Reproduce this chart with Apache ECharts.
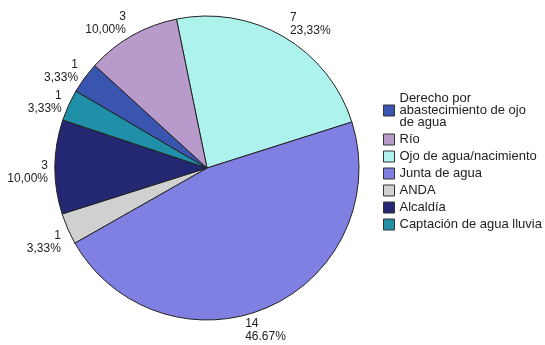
<!DOCTYPE html>
<html>
<head>
<meta charset="utf-8">
<script src="https://cdn.jsdelivr.net/npm/echarts@6/dist/echarts.min.js"></script>
<style>
  html, body { margin: 0; padding: 0; background: #fff; }
  #chart { width: 545px; height: 345px; }
</style>
</head>
<body>
<div id="chart"></div>
<script>
// slices in clockwise order, starting at the top
var categories = ['Ojo de agua/nacimiento', 'Junta de agua', 'ANDA', 'Alcaldía',
  'Captación de agua lluvia', 'Derecho por abastecimiento de ojo de agua', 'Río'];
var counts = [7, 14, 1, 3, 1, 1, 3];
var percentLabels = ['23,33%', '46.67%', '3,33%', '10,00%', '3,33%', '3,33%', '10,00%'];
var colors = ['#aef2ee', '#8080e2', '#d0d0d0', '#242872', '#2090a8', '#3a55b0', '#b89acb'];

// legend order as shown on the right
var legendOrder = ['Derecho por abastecimiento de ojo de agua', 'Río', 'Ojo de agua/nacimiento',
  'Junta de agua', 'ANDA', 'Alcaldía', 'Captación de agua lluvia'];

var pieCenter = [207, 168];
var pieRadius = 152;
var labelGap = 2;

var chart = echarts.init(document.getElementById('chart'), null, { renderer: 'canvas' });

var pieData = categories.map(function (name, i) {
  return {
    name: name,
    value: counts[i],
    itemStyle: { color: colors[i] },
    label: { formatter: counts[i] + '\n' + percentLabels[i] }
  };
});

chart.setOption({
  animation: false,
  textStyle: { fontFamily: 'Liberation Sans, Arial, sans-serif' },
  legend: {
    orient: 'vertical',
    left: 378,
    top: 87,
    data: legendOrder,
    icon: 'rect',
    itemWidth: 11,
    itemHeight: 11,
    itemGap: 4,
    itemStyle: { borderColor: '#333', borderWidth: 1 },
    formatter: function (name) {
      if (name === 'Derecho por abastecimiento de ojo de agua') {
        return 'Derecho por\nabastecimiento de ojo\nde agua';
      }
      return name;
    },
    textStyle: { fontSize: 13, color: '#222', lineHeight: 12 }
  },
  series: [{
    type: 'pie',
    center: pieCenter,
    radius: pieRadius,
    startAngle: 101.6,
    clockwise: true,
    avoidLabelOverlap: false,
    itemStyle: { borderColor: '#222', borderWidth: 1 },
    label: {
      show: true,
      position: 'outside',
      fontSize: 12,
      lineHeight: 13,
      color: '#222'
    },
    labelLine: { show: false, length: labelGap, length2: 0 },
    // push labels away from the pie vertically, so the corner nearest the pie touches it
    labelLayout: function (params) {
      var r = params.labelRect;
      var midY = r.y + r.height / 2;
      var sin = (pieCenter[1] - midY) / (pieRadius + labelGap);
      var out = { dy: -sin * r.height / 2 + 5 * (1 - sin) };
      if (sin < -0.8) {
        // label under the pie sits more or less centred below its slice
        out.dx = -0.7 * r.width;
      }
      return out;
    },
    emphasis: { disabled: true },
    data: pieData
  }]
});
</script>
</body>
</html>
